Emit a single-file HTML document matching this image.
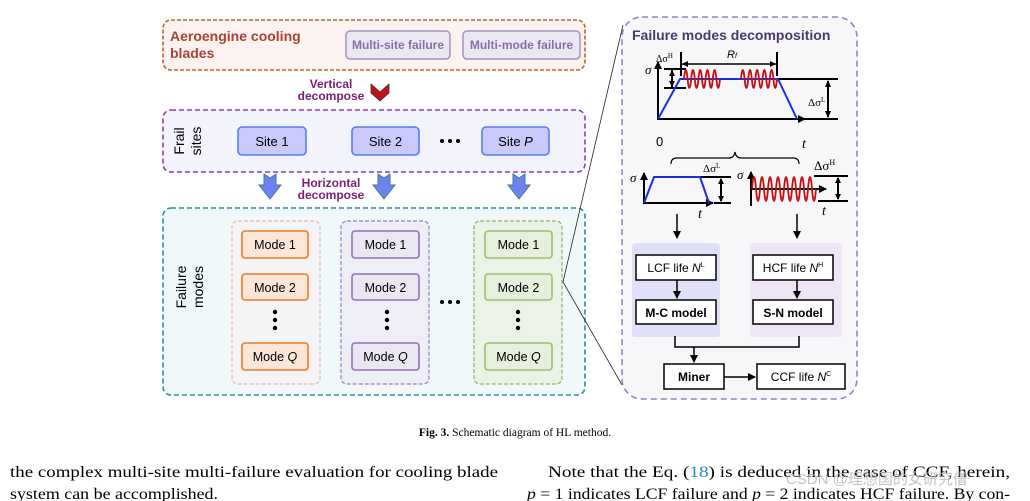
<!DOCTYPE html>
<html><head><meta charset="utf-8"><style>
html,body{margin:0;padding:0;background:#fff;}
svg{display:block;font-family:"Liberation Sans",Arial,sans-serif;}
.s{font-family:"Liberation Serif","Noto Serif CJK SC",serif;}
</style></head><body>
<svg width="1030" height="501" viewBox="0 0 1030 501" xmlns="http://www.w3.org/2000/svg">
<defs>
<marker id="ah" markerWidth="8" markerHeight="8" refX="7" refY="4" orient="auto" markerUnits="userSpaceOnUse"><path d="M0,0 L8,4 L0,8 z" fill="#000"/></marker>
</defs>
<rect x="163" y="20" width="422" height="50" rx="8" fill="#fcf2ef" stroke="#b8672e" stroke-width="1.6" stroke-dasharray="4,2"/>
<text x="170" y="41" font-size="14" font-weight="bold" fill="#a64437">Aeroengine cooling</text>
<text x="170" y="58" font-size="14" font-weight="bold" fill="#a64437">blades</text>
<rect x="346" y="31" width="104" height="28" rx="4" fill="#ece8f3" stroke="#a391c0" stroke-width="1.5"/>
<text x="398" y="49" font-size="12" font-weight="bold" fill="#8a6ea8" text-anchor="middle">Multi-site failure</text>
<rect x="463" y="31" width="117" height="28" rx="4" fill="#ece8f3" stroke="#a391c0" stroke-width="1.5"/>
<text x="521.5" y="49" font-size="12" font-weight="bold" fill="#8a6ea8" text-anchor="middle">Multi-mode failure</text>
<text x="331" y="88" font-size="12" font-weight="bold" fill="#7a1f75" text-anchor="middle">Vertical</text>
<text x="331" y="100" font-size="12" font-weight="bold" fill="#7a1f75" text-anchor="middle">decompose</text>
<path d="M371,84 L380,92 L389,84 L389,93 L380,101 L371,93 z" fill="#c0101a" stroke="#333" stroke-width="0.8"/>
<rect x="163" y="110" width="422" height="62" rx="8" fill="#f3f3fc" stroke="#8c3fc2" stroke-width="1.6" stroke-dasharray="5,3"/>
<text transform="translate(184,141) rotate(-90)" font-size="14" text-anchor="middle">Frail</text>
<text transform="translate(201,141) rotate(-90)" font-size="14" text-anchor="middle">sites</text>
<g font-size="13" text-anchor="middle">
<rect x="238" y="127" width="68" height="28" rx="4" fill="#c9cafb" stroke="#5b7cf0" stroke-width="1.6"/><text x="272" y="146">Site 1</text>
<rect x="352" y="127" width="67" height="28" rx="4" fill="#c9cafb" stroke="#5b7cf0" stroke-width="1.6"/><text x="385.5" y="146">Site 2</text>
<rect x="482" y="127" width="67" height="28" rx="4" fill="#c9cafb" stroke="#5b7cf0" stroke-width="1.6"/><text x="515.5" y="146">Site <tspan font-style="italic">P</tspan></text>
</g>
<g fill="#000"><circle cx="442" cy="141" r="2"/><circle cx="450" cy="141" r="2"/><circle cx="458" cy="141" r="2"/></g>
<g fill="#6e83f0" stroke="#3c7b9a" stroke-width="1">
<path d="M264,174 L270,178 L276,174 L276,185 L281,185 L270,199 L259,185 L264,185 z"/>
<path d="M378,174 L384,178 L390,174 L390,185 L395,185 L384,199 L373,185 L378,185 z"/>
<path d="M513,174 L519,178 L525,174 L525,185 L530,185 L519,199 L508,185 L513,185 z"/>
</g>
<text x="331" y="187" font-size="12" font-weight="bold" fill="#7a1f75" text-anchor="middle">Horizontal</text>
<text x="331" y="199" font-size="12" font-weight="bold" fill="#7a1f75" text-anchor="middle">decompose</text>
<rect x="163" y="208" width="422" height="187" rx="8" fill="#f0f8fa" stroke="#2c8ca0" stroke-width="1.6" stroke-dasharray="5,3"/>
<text transform="translate(186,287) rotate(-90)" font-size="14" text-anchor="middle">Failure</text>
<text transform="translate(203,287) rotate(-90)" font-size="14" text-anchor="middle">modes</text>
<rect x="232" y="221" width="88" height="163" rx="6" fill="#f4f4f6" stroke="#e8b5ad" stroke-width="1.2" stroke-dasharray="4,2"/>
<rect x="341" y="221" width="88" height="163" rx="6" fill="#eeeef6" stroke="#9a7cc4" stroke-width="1.2" stroke-dasharray="4,2"/>
<rect x="474" y="221" width="88" height="163" rx="6" fill="#ebf2e6" stroke="#96ae70" stroke-width="1.2" stroke-dasharray="4,2"/>
<g font-size="12.5" text-anchor="middle">
<g fill="#fbe6d8" stroke="#f07a20" stroke-width="1.6">
<rect x="242" y="231" width="66" height="27" rx="3"/><rect x="242" y="274" width="66" height="26" rx="3"/><rect x="242" y="343" width="66" height="27" rx="3"/></g>
<text x="275" y="249">Mode 1</text><text x="275" y="292">Mode 2</text><text x="275" y="361">Mode <tspan font-style="italic">Q</tspan></text>
<g fill="#eae6f2" stroke="#9272b8" stroke-width="1.6">
<rect x="352" y="231" width="67" height="27" rx="3"/><rect x="352" y="274" width="67" height="26" rx="3"/><rect x="352" y="343" width="67" height="27" rx="3"/></g>
<text x="385.5" y="249">Mode 1</text><text x="385.5" y="292">Mode 2</text><text x="385.5" y="361">Mode <tspan font-style="italic">Q</tspan></text>
<g fill="#e6f0dc" stroke="#9cc070" stroke-width="1.6">
<rect x="485" y="231" width="67" height="27" rx="3"/><rect x="485" y="274" width="67" height="26" rx="3"/><rect x="485" y="343" width="67" height="27" rx="3"/></g>
<text x="518.5" y="249">Mode 1</text><text x="518.5" y="292">Mode 2</text><text x="518.5" y="361">Mode <tspan font-style="italic">Q</tspan></text>
</g>
<g fill="#000">
<circle cx="275" cy="312" r="2.2"/><circle cx="275" cy="320" r="2.2"/><circle cx="275" cy="328" r="2.2"/>
<circle cx="387" cy="312" r="2.2"/><circle cx="387" cy="320" r="2.2"/><circle cx="387" cy="328" r="2.2"/>
<circle cx="518" cy="312" r="2.2"/><circle cx="518" cy="320" r="2.2"/><circle cx="518" cy="328" r="2.2"/>
<circle cx="442" cy="302" r="2"/><circle cx="450" cy="302" r="2"/><circle cx="458" cy="302" r="2"/>
</g>
<path d="M623,25 L563,282 L622,385" fill="none" stroke="#222" stroke-width="0.8"/>
<rect x="622" y="17" width="235" height="382" rx="20" fill="#f7f7fa" stroke="#9a80c2" stroke-width="1.6" stroke-dasharray="6,4"/>
<text x="632" y="40" font-size="14" font-weight="bold" fill="#4a3a6a">Failure modes decomposition</text>
<g stroke="#000" stroke-width="2" fill="none">
<path d="M658,120 L658,62" marker-end="url(#ah)"/>
<path d="M658,119 L805,119" marker-end="url(#ah)"/>
<path d="M805,119 L838,119"/>
<path d="M778,79 L838,79"/>
<path d="M664,69 L686,69 M664,88 L686,88"/>
<path d="M672,70 L672,87"/>
<path d="M828,81 L828,117"/>
<path d="M681,52 L681,76 M777,52 L777,76"/>
<path d="M682,64 L776,64" stroke-width="1.5"/>
</g>
<g fill="#000"><path d="M672,70 l-3,6 h6z M672,87 l-3,-6 h6z M828,80 l-3,7 h6z M828,118 l-3,-7 h6z M682,64 l6,-3 v6z M776,64 l-6,-3 v6z"/></g>
<path d="M658,119 L680,79 L778,79 L797,119" fill="none" stroke="#1a2ee8" stroke-width="2"/>
<g fill="none" stroke="#c41010" stroke-width="1.8">
<path d="M684,79 q1.8,-18 3.6,0 t3.6,0 t3.6,0 t3.6,0 t3.6,0 t3.6,0 t3.6,0 t3.6,0 t3.6,0 t3.6,0"/>
<path d="M741,79 q1.8,-18 3.6,0 t3.6,0 t3.6,0 t3.6,0 t3.6,0 t3.6,0 t3.6,0 t3.6,0 t3.6,0 t3.6,0"/>
</g>
<g class="s" font-size="13" font-style="italic">
<text x="645" y="74">σ</text>
<text x="656" y="62" font-size="10" font-style="normal">Δσ<tspan font-size="7" dy="-4">H</tspan></text>
<text x="727" y="58" font-family="Liberation Sans" font-size="11">R<tspan font-size="7">f</tspan></text>
<text x="808" y="106" font-size="11" font-style="normal">Δσ<tspan font-size="7" dy="-4">L</tspan></text>
<text x="802" y="148" font-size="14">t</text>
</g>
<text x="656" y="146" font-size="13">0</text>
<path d="M671,164 q0,-6 6,-6 L729,158 q5,0 6,-6 q1,6 6,6 L793,158 q6,0 6,6" fill="none" stroke="#000" stroke-width="1.2"/>
<g stroke="#000" stroke-width="2" fill="none">
<path d="M644,204 L644,173" marker-end="url(#ah)"/>
<path d="M644,203 L713,203" marker-end="url(#ah)"/>
<path d="M700,177 L731,177 M714,203 L731,203"/>
<path d="M721,179 L721,201"/>
</g>
<path d="M721,178 l-3,6 h6z M721,202 l-3,-6 h6z" fill="#000"/>
<path d="M644,203 L654,177 L700,177 L709,203" fill="none" stroke="#1a2ee8" stroke-width="2"/>
<g class="s" font-size="13" font-style="italic">
<text x="630" y="182">σ</text>
<text x="703" y="172" font-size="11" font-style="normal">Δσ<tspan font-size="7" dy="-4">L</tspan></text>
<text x="698" y="218" font-size="14">t</text>
<text x="737" y="179">σ</text>
<text x="814" y="170" font-size="13" font-style="normal">Δσ<tspan font-size="8" dy="-5">H</tspan></text>
<text x="822" y="215" font-size="14">t</text>
</g>
<g stroke="#000" stroke-width="2" fill="none">
<path d="M751,206 L751,172" marker-end="url(#ah)"/>
<path d="M751,189 L826,189" marker-end="url(#ah)"/>
<path d="M814,176 L848,176 M818,201 L848,201"/>
<path d="M838,178 L838,199"/>
</g>
<path d="M838,177 l-3,6 h6z M838,200 l-3,-6 h6z" fill="#000"/>
<path d="M752,189 q2,-24 4,0 t4,0 t4,0 t4,0 t4,0 t4,0 t4,0 t4,0 t4,0 t4,0 t4,0 t4,0 t4,0 t4,0 t4,0 t4,0" fill="none" stroke="#c41010" stroke-width="1.8"/>
<rect x="632" y="243" width="88" height="94" rx="3" fill="#e0e0f8"/>
<rect x="750" y="243" width="92" height="94" rx="3" fill="#eee6f6"/>
<g stroke="#000" stroke-width="1.5" fill="none">
<path d="M677,214 L677,238" marker-end="url(#ah)"/>
<path d="M797,214 L797,238" marker-end="url(#ah)"/>
<path d="M677,280 L677,298" marker-end="url(#ah)"/>
<path d="M797,280 L797,298" marker-end="url(#ah)"/>
<path d="M675,336 L675,347 L799,347 L799,336"/>
<path d="M694,347 L694,362" marker-end="url(#ah)"/>
<path d="M724,377 L755,377" marker-end="url(#ah)"/>
</g>
<g stroke="#000" stroke-width="1.5" fill="#fff">
<rect x="636" y="255" width="80" height="25"/>
<rect x="753" y="255" width="80" height="25"/>
<rect x="636" y="300" width="80" height="24"/>
<rect x="753" y="300" width="80" height="24"/>
<rect x="664" y="364" width="60" height="25"/>
<rect x="757" y="364" width="88" height="25"/>
</g>
<g font-size="12" text-anchor="middle">
<text x="676" y="272">LCF life <tspan font-style="italic">N</tspan><tspan font-size="7" dy="-5">L</tspan></text>
<text x="793" y="272">HCF life <tspan font-style="italic">N</tspan><tspan font-size="7" dy="-5">H</tspan></text>
<text x="676" y="317" font-weight="bold">M-C model</text>
<text x="793" y="317" font-weight="bold">S-N model</text>
<text x="694" y="381" font-weight="bold">Miner</text>
<text x="801" y="381">CCF  life <tspan font-style="italic">N</tspan><tspan font-size="7" dy="-5">C</tspan></text>
</g>
<text class="s" x="515" y="436" font-size="11.5" text-anchor="middle"><tspan font-weight="bold">Fig. 3.</tspan> Schematic diagram of HL method.</text>
<g class="s" font-size="16">
<text x="10" y="477" textLength="488" lengthAdjust="spacingAndGlyphs">the complex multi-site multi-failure evaluation for cooling blade</text>
<text x="10" y="499" textLength="208" lengthAdjust="spacingAndGlyphs">system can be accomplished.</text>
<text x="548" y="477" textLength="462" lengthAdjust="spacingAndGlyphs">Note that the Eq. (<tspan fill="#2a8ab8">18</tspan>) is deduced in the case of CCF, herein,</text>
<text x="527" y="499" textLength="483" lengthAdjust="spacingAndGlyphs"><tspan font-style="italic">p</tspan> = 1 indicates LCF failure and <tspan font-style="italic">p</tspan> = 2 indicates HCF failure. By con-</text>
</g>
<text x="786" y="484" font-size="15" fill="#b8b8b8" opacity="0.85" font-family="Liberation Sans, 'Noto Sans CJK SC', sans-serif">CSDN @理想国的女研究僧</text>
</svg>
</body></html>
